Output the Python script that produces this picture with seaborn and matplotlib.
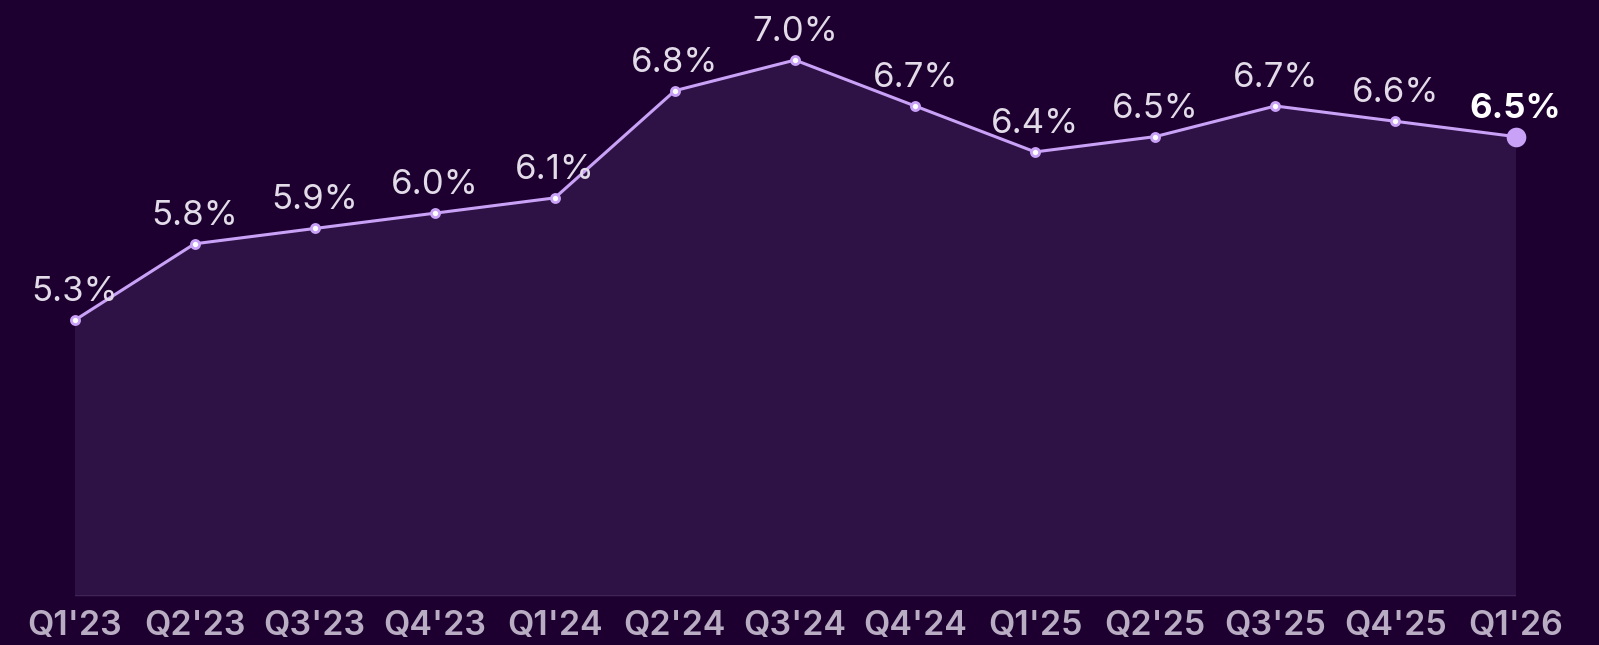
import matplotlib
matplotlib.use("Agg")
import matplotlib.pyplot as plt
import seaborn as sns
import pandas as pd

# Chart data
quarters = ["Q1'23", "Q2'23", "Q3'23", "Q4'23", "Q1'24", "Q2'24", "Q3'24",
            "Q4'24", "Q1'25", "Q2'25", "Q3'25", "Q4'25", "Q1'26"]
rates = [5.3, 5.8, 5.9, 6.0, 6.1, 6.8, 7.0, 6.7, 6.4, 6.5, 6.7, 6.6, 6.5]

BG = "#1d0030"
FILL = "#2f1245"
LINE = "#c9a2f7"
LABEL = "#e2dbe8"
TICK = "#b9adc4"

sns.set_style("dark", {"axes.facecolor": BG, "figure.facecolor": BG})
plt.rcParams["font.family"] = ["Inter", "DejaVu Sans"]

df = pd.DataFrame({"quarter": quarters, "rate": rates})
df["pos"] = range(len(df))

fig = plt.figure(figsize=(15.99, 6.45), dpi=100)
ax = fig.add_axes([74.5 / 1599, 1 - 596 / 645, (1515.5 - 74.5) / 1599, 596 / 645])
ax.set_facecolor(BG)

ax.fill_between(df["pos"], df["rate"], 3.5, color=FILL, zorder=1, linewidth=0)
sns.lineplot(data=df, x="pos", y="rate", ax=ax, color=LINE, linewidth=2.2, zorder=2)
ax.scatter(df["pos"][:-1], df["rate"][:-1], s=34, facecolor="white",
           edgecolor=LINE, linewidth=2, zorder=3, clip_on=False)
ax.scatter(df["pos"].iloc[-1:], df["rate"].iloc[-1:], s=200, color=LINE,
           linewidth=0, zorder=3, clip_on=False)

# value labels
for i, (p, r) in enumerate(zip(df["pos"], df["rate"])):
    last = i == len(df) - 1
    ax.annotate(f"{r:.1f}%", (p, r), xytext=(0, 19), textcoords="offset pixels",
                ha="center", va="baseline", fontsize=25,
                color="white" if last else LABEL,
                fontweight="bold" if last else "normal", zorder=4,
                annotation_clip=False)

ax.axhline(3.5, color="#43285a", linewidth=1.2, zorder=2)

ax.set_xlim(0, len(df) - 1)
ax.set_ylim(3.5, 7.0 + 60 / 153)
ax.set_xticks(df["pos"])
ax.set_xticklabels(quarters, fontsize=24.5, color=TICK, fontweight="semibold")
ax.tick_params(axis="x", length=0, pad=10)
ax.set_yticks([])
ax.set_xlabel("")
ax.set_ylabel("")
ax.grid(False)
for s in ax.spines.values():
    s.set_visible(False)

fig.savefig("out.png", dpi=100, facecolor=BG)
